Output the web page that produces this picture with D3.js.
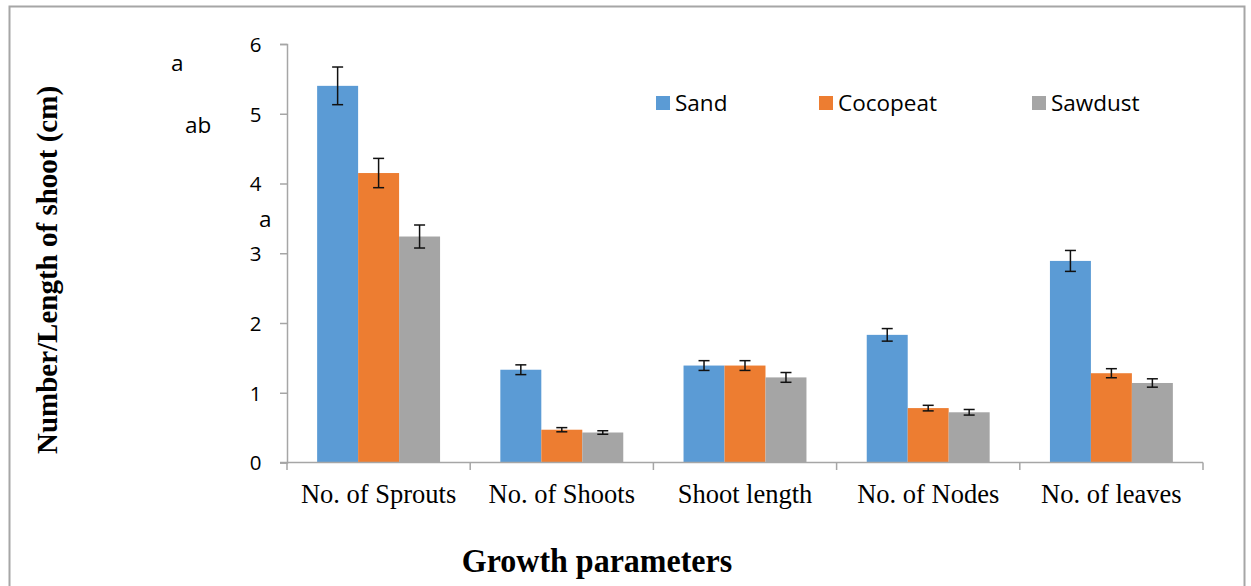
<!DOCTYPE html>
<html>
<head>
<meta charset="utf-8">
<script src="https://cdn.jsdelivr.net/npm/d3@7"></script>
<style>
  html, body { margin: 0; padding: 0; background: #fff; }
  svg { display: block; }
</style>
</head>
<body>
<svg id="chart" width="1251" height="586"></svg>
<script>
const categories = ["No. of Sprouts", "No. of Shoots", "Shoot length", "No. of Nodes", "No. of leaves"];
const seriesNames = ["Sand", "Cocopeat", "Sawdust"];
const sandValues = [5.40, 1.33, 1.39, 1.83, 2.89];
const cocopeatValues = [4.15, 0.47, 1.39, 0.78, 1.28];
const sawdustValues = [3.24, 0.43, 1.22, 0.72, 1.14];
const sandErrors = [0.27, 0.07, 0.07, 0.09, 0.15];
const cocopeatErrors = [0.21, 0.03, 0.07, 0.04, 0.065];
const sawdustErrors = [0.165, 0.025, 0.07, 0.04, 0.06];
const yTicks = [0, 1, 2, 3, 4, 5, 6];
const letterLabels = ["a", "ab", "a"];
const colors = ["#5B9BD5", "#ED7D31", "#A5A5A5"];

const values = [sandValues, cocopeatValues, sawdustValues];
const errors = [sandErrors, cocopeatErrors, sawdustErrors];

const svg = d3.select("#chart");

// outer frame
svg.append("rect")
  .attr("x", 9.5).attr("y", 6.5)
  .attr("width", 1235).attr("height", 600)
  .attr("fill", "none").attr("stroke", "#a6a6a6").attr("stroke-width", 2);

const plotLeft = 287, plotRight = 1203, plotTop = 44, plotBottom = 462.5;

const y = d3.scaleLinear().domain([0, 6]).range([plotBottom, plotTop]);
const x0 = d3.scaleBand().domain(categories).range([plotLeft, plotRight])
  .paddingInner(0.329).paddingOuter(0.1645);
const x1 = d3.scaleBand().domain(seriesNames).range([0, x0.bandwidth()]);

const axisColor = "#a6a6a6";

// y axis
const yAxis = svg.append("g").attr("transform", `translate(${plotLeft},0)`)
  .call(d3.axisLeft(y).tickValues(yTicks).tickSize(7).tickPadding(0).tickFormat(d3.format("d")));
yAxis.select(".domain").attr("stroke", axisColor).attr("stroke-width", 1.5);
yAxis.selectAll(".tick line").attr("stroke", axisColor).attr("stroke-width", 1.5);
yAxis.selectAll(".tick text")
  .attr("x", -25.5).attr("dy", "0.36em")
  .attr("font-family", "'Open Sans', sans-serif").attr("font-size", 20.5)
  .attr("fill", "#000").attr("text-anchor", "end");

// bars
const groups = svg.append("g").selectAll("g")
  .data(categories).join("g")
  .attr("transform", d => `translate(${x0(d)},0)`);

seriesNames.forEach((s, si) => {
  groups.append("rect")
    .attr("x", x1(s))
    .attr("y", (d, i) => y(values[si][i]))
    .attr("width", x1.bandwidth())
    .attr("height", (d, i) => y(0) - y(values[si][i]))
    .attr("fill", colors[si]);
});

// error bars
seriesNames.forEach((s, si) => {
  const cx = x1(s) + x1.bandwidth() / 2;
  groups.each(function(d, i) {
    const g = d3.select(this);
    const v = values[si][i], e = errors[si][i];
    const yt = y(v + e), yb = y(v - e);
    g.append("line").attr("x1", cx).attr("x2", cx).attr("y1", yt).attr("y2", yb)
      .attr("stroke", "#111").attr("stroke-width", 1.5);
    [yt, yb].forEach(yy => {
      g.append("line").attr("x1", cx - 5.5).attr("x2", cx + 5.5).attr("y1", yy).attr("y2", yy)
        .attr("stroke", "#111").attr("stroke-width", 1.5);
    });
  });
});

// x axis
const step = x0.step();
const boundaries = categories.map(c => x0(c) - (step - x0.bandwidth()) / 2).concat([plotRight]);
const xAxisG = svg.append("g");
xAxisG.append("line").attr("x1", plotLeft - 7).attr("x2", plotRight).attr("y1", plotBottom).attr("y2", plotBottom)
  .attr("stroke", axisColor).attr("stroke-width", 1.5);
xAxisG.selectAll("line.tk").data(boundaries).join("line").attr("class", "tk")
  .attr("x1", d => d).attr("x2", d => d).attr("y1", plotBottom).attr("y2", plotBottom + 7.5)
  .attr("stroke", axisColor).attr("stroke-width", 1.5);
xAxisG.selectAll("text").data(categories).join("text")
  .attr("x", d => x0(d) + x0.bandwidth() / 2).attr("y", 503)
  .attr("text-anchor", "middle")
  .attr("font-family", "'Liberation Serif', 'Times New Roman', serif").attr("font-size", 26.5)
  .attr("fill", "#000")
  .text(d => d);

// axis titles
svg.append("text")
  .attr("transform", "translate(597,572) scale(1,1.08)")
  .attr("text-anchor", "middle")
  .attr("font-family", "'Liberation Serif', 'Times New Roman', serif")
  .attr("font-weight", "bold").attr("font-size", 32).attr("fill", "#000")
  .text("Growth parameters");

svg.append("text")
  .attr("transform", "translate(57,270) rotate(-90)")
  .attr("text-anchor", "middle")
  .attr("font-family", "'Liberation Serif', 'Times New Roman', serif")
  .attr("font-weight", "bold").attr("font-size", 29).attr("fill", "#000")
  .text("Number/Length of shoot (cm)");

// stray letter labels
const letterPos = [[171, 71], [185, 133], [259, 226.5]];
svg.append("g").selectAll("text").data(letterLabels).join("text")
  .attr("x", (d, i) => letterPos[i][0]).attr("y", (d, i) => letterPos[i][1])
  .attr("font-family", "'Open Sans', sans-serif").attr("font-size", 22.5).attr("fill", "#000")
  .text(d => d);

// legend
const legendX = [656, 819, 1032];
const legend = svg.append("g").selectAll("g").data(seriesNames).join("g")
  .attr("transform", (d, i) => `translate(${legendX[i]},96)`);
legend.append("rect").attr("width", 14).attr("height", 14).attr("fill", (d, i) => colors[i]);
legend.append("text").attr("x", 19).attr("y", 15)
  .attr("font-family", "'Open Sans', sans-serif").attr("font-size", 22.5).attr("fill", "#000")
  .text(d => d);
</script>
</body>
</html>
